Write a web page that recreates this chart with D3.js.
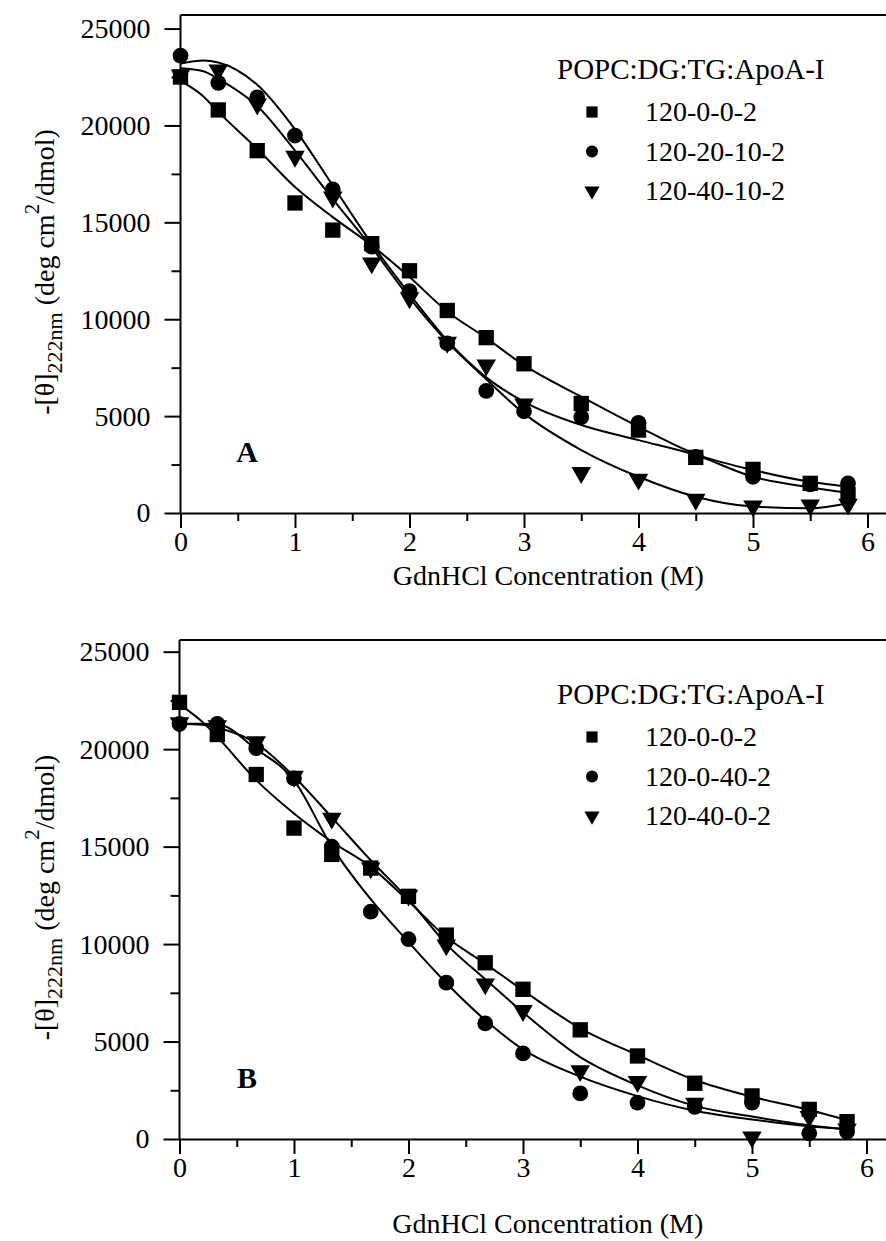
<!DOCTYPE html>
<html>
<head>
<meta charset="utf-8">
<script src="https://cdn.jsdelivr.net/npm/d3@7"></script>
<style>
  body { margin: 0; background: #fff; }
  text { font-family: "Liberation Serif", "Times New Roman", serif; fill: #000; }
</style>
</head>
<body>
<div id="chart"></div>
<script>
// GdnHCl concentrations (M) where points were measured
var conc = [0, 0.33, 0.67, 1, 1.33, 1.67, 2, 2.33, 2.67, 3, 3.5, 4, 4.5, 5, 5.5, 5.83];
var fitConc = [0, 0.2, 0.33, 0.67, 1, 1.33, 1.67, 2, 2.33, 2.67, 3, 3.5, 4, 4.5, 5, 5.5, 5.83];

// panel A: -[theta]222 values
var ctrlA  = [22500, 20800, 18700, 16000, 14600, 13900, 12500, 10450, 9050, 7700, 5650, 4280, 2870, 2250, 1530, 950];
var dg20A  = [23600, 22200, 21450, 19480, 16700, 13750, 11450, 8750, 6300, 5250, 4950, 4650, 2900, 1870, 1480, 1530];
var dg40A  = [22600, 22850, 21100, 18400, 16300, 12900, 11100, 8800, 7630, 5620, 2080, 1740, 700, 360, 410, 450];
var ctrlFitA = [22300, 21500, 20700, 18800, 16820, 15270, 13810, 12180, 10400, 9030, 7630, 6000, 4450, 3040, 2220, 1610, 1360];
var dg20FitA = [23200, 23350, 23250, 22100, 19800, 16900, 13900, 11300, 8900, 7000, 5740, 4540, 3760, 2990, 1870, 1320, 1050];
var dg40FitA = [22950, 22800, 22400, 21000, 18700, 16200, 13700, 11100, 8830, 6900, 5140, 3250, 1870, 840, 330, 240, 500];

// panel B
var ctrlB  = [22400, 20750, 18700, 15950, 14600, 13900, 12450, 10460, 9040, 7680, 5600, 4260, 2860, 2210, 1520, 890];
var tg40B  = [21300, 21300, 20050, 18500, 15000, 11660, 10250, 8020, 5930, 4390, 2340, 1860, 1650, 1860, 290, 370];
var dg40B  = [21350, 21200, 20370, 18600, 16450, 13900, 12500, 9950, 7950, 6580, 3500, 2940, 1830, 100, 1150, 500];
var ctrlFitB = [22300, 21400, 20630, 18410, 16700, 15250, 13960, 12200, 10360, 9000, 7630, 5680, 4310, 3030, 2170, 1490, 970];
var tg40FitB = [21300, 21300, 21280, 20000, 18400, 15000, 12300, 10100, 8000, 6100, 4600, 3200, 2200, 1450, 1000, 650, 500];
var dg40FitB = [21300, 21250, 21100, 20300, 18600, 16500, 14300, 12300, 10000, 8200, 6500, 4200, 2750, 1700, 1150, 700, 480];

var legendTitle = "POPC:DG:TG:ApoA-I";
var namesA = ["120-0-0-2", "120-20-10-2", "120-40-10-2"];
var namesB = ["120-0-0-2", "120-0-40-2", "120-40-0-2"];
var xTicks = [0, 1, 2, 3, 4, 5, 6];
var xMinor = [0.5, 1.5, 2.5, 3.5, 4.5, 5.5];
var yTicks = [0, 5000, 10000, 15000, 20000, 25000];
var yMinor = [2500, 7500, 12500, 17500, 22500];

var width = 886, height = 1241;

var svg = d3.select("#chart").append("svg")
            .attr("width", width)
            .attr("height", height);

var shapes = [d3.symbolSquare, d3.symbolCircle, d3.symbolTriangle];
var sizes = [235, 195, 165];
var legendSizes = [125, 115, 100];

function symbolPath(i, size) {
  return d3.symbol().type(shapes[i]).size(size)();
}
// triangles point down in this figure
function symbolRot(i) { return i == 2 ? " rotate(180)" : ""; }

var panels = [
  { top: 15, bottom: 513, left: 180.5, yMax: 25700, letter: "A", names: namesA, titleDy: 72,
    series: [ctrlA, dg20A, dg40A], fits: [ctrlFitA, dg20FitA, dg40FitA] },
  { top: 640, bottom: 1139, left: 179.5, yMax: 25600, letter: "B", names: namesB, titleDy: 94,
    series: [ctrlB, tg40B, dg40B], fits: [ctrlFitB, tg40FitB, dg40FitB] }
];

panels.forEach(function(p) {
  var x = d3.scaleLinear().domain([0, 6.2]).range([p.left, p.left + 6.2 * 114.5]);
  var y = d3.scaleLinear().domain([0, p.yMax]).range([p.bottom, p.top]);
  var g = svg.append("g");

  // frame top line
  g.append("line")
   .attr("x1", p.left).attr("x2", width)
   .attr("y1", p.top).attr("y2", p.top)
   .attr("stroke", "#000").attr("stroke-width", 2);

  // y axis, major + minor ticks
  var yAxis = g.append("g")
    .attr("transform", "translate(" + p.left + ",0)")
    .call(d3.axisLeft(y).tickValues(yTicks).tickSize(16).tickSizeOuter(0).tickPadding(14).tickFormat(d3.format("d")));
  yAxis.select(".domain").attr("d", "M0," + p.bottom + "V" + p.top);
  g.append("g")
    .attr("transform", "translate(" + p.left + ",0)")
    .call(d3.axisLeft(y).tickValues(yMinor).tickSize(9).tickFormat(""))
    .select(".domain").remove();

  // x axis
  g.append("g")
    .attr("transform", "translate(0," + p.bottom + ")")
    .call(d3.axisBottom(x).tickValues(xTicks).tickSize(15).tickSizeOuter(0).tickPadding(3).tickFormat(d3.format("d")));
  g.append("g")
    .attr("transform", "translate(0," + p.bottom + ")")
    .call(d3.axisBottom(x).tickValues(xMinor).tickSize(8).tickFormat(""))
    .select(".domain").remove();

  g.selectAll(".domain, .tick line").attr("stroke", "#000").attr("stroke-width", 2);
  g.selectAll(".tick text").style("font-family", "Liberation Serif").style("font-size", "28px").attr("fill", "#000");

  // axis titles
  g.append("text")
   .attr("x", (p.left + 866) / 2 + 25)
   .attr("y", p.bottom + p.titleDy)
   .attr("text-anchor", "middle")
   .style("font-size", "28px")
   .text("GdnHCl Concentration (M)");

  var yt = g.append("text")
   .attr("transform", "translate(54," + ((p.top + p.bottom) / 2 + 8) + ") rotate(-90)")
   .attr("text-anchor", "middle")
   .style("font-size", "28px");
  yt.append("tspan").text("-[\u03B8]");
  yt.append("tspan").attr("dy", 8).style("font-size", "22px").text("222nm");
  yt.append("tspan").attr("dy", -8).text(" (deg cm");
  yt.append("tspan").attr("dy", -15).style("font-size", "21px").text("2");
  yt.append("tspan").attr("dy", 15).text("/dmol)");

  // fitted curves
  var line = d3.line()
    .x(function(d, i) { return x(fitConc[i]); })
    .y(function(d) { return y(d); })
    .curve(d3.curveMonotoneX);
  g.selectAll(".fit")
   .data(p.fits)
   .enter()
   .append("path")
   .attr("d", line)
   .attr("fill", "none")
   .attr("stroke", "#000")
   .attr("stroke-width", 2);

  // markers
  p.series.forEach(function(s, si) {
    g.selectAll(".m" + si)
     .data(s)
     .enter()
     .append("path")
     .attr("d", symbolPath(si, sizes[si]))
     .attr("transform", function(d, i) {
       return "translate(" + x(conc[i]) + "," + y(d) + ")" + symbolRot(si);
     })
     .attr("fill", "#000");
  });

  // legend
  g.append("text")
   .attr("x", 557).attr("y", p.top + 64)
   .style("font-size", "29px")
   .text(legendTitle);
  p.names.forEach(function(n, i) {
    var cy = p.top + 97 + i * 39.5;
    g.append("path")
     .attr("d", symbolPath(i, legendSizes[i]))
     .attr("transform", "translate(592," + cy + ")" + symbolRot(i))
     .attr("fill", "#000");
    g.append("text")
     .attr("x", 645).attr("y", cy + 9)
     .style("font-size", "28px")
     .text(n);
  });

  // panel letter
  g.append("text")
   .attr("x", 247).attr("y", p.bottom - 51)
   .attr("text-anchor", "middle")
   .style("font-size", "30px")
   .style("font-weight", "bold")
   .text(p.letter);
});
</script>
</body>
</html>
